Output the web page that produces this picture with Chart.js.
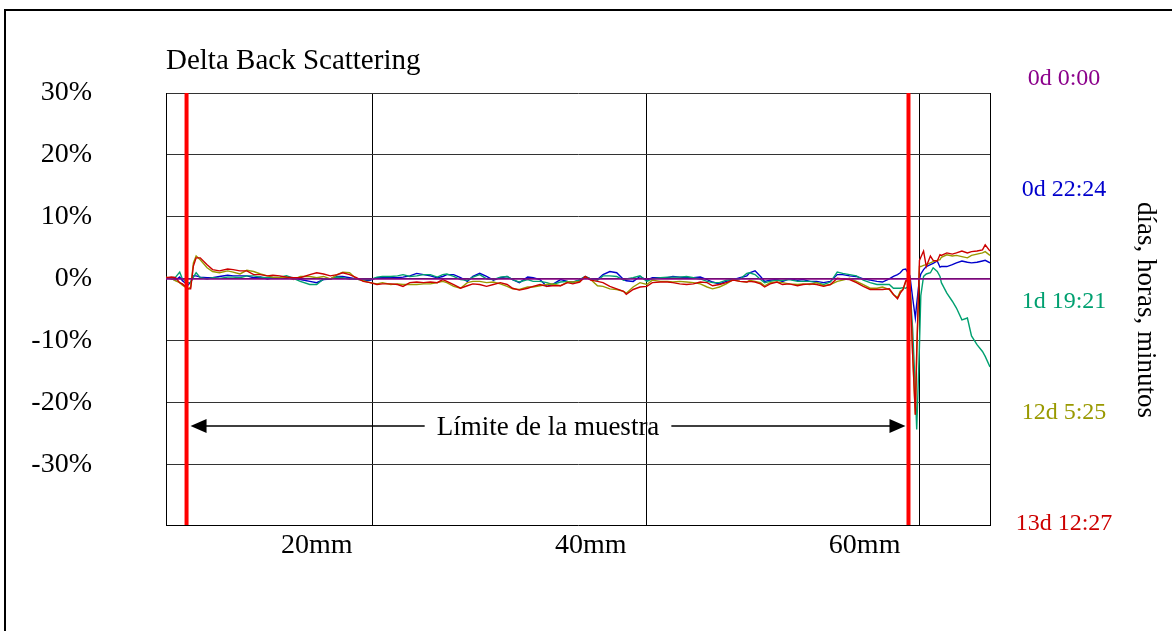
<!DOCTYPE html>
<html>
<head>
<meta charset="utf-8">
<title>Delta Back Scattering</title>
<script src="https://cdn.jsdelivr.net/npm/chart.js@4.4.1/dist/chart.umd.min.js"></script>
<style>
  html, body { margin: 0; padding: 0; background: #fff; }
  #wrap { width: 1172px; height: 631px; }
</style>
</head>
<body>
<div id="wrap"><canvas id="chart"></canvas></div>
<script>
// series names (legend on the right) and colours
const seriesLabels = ['0d 0:00', '0d 22:24', '1d 19:21', '12d 5:25', '13d 12:27'];
const seriesColors = ['#8b008b', '#0000cc', '#00a070', '#999900', '#cc0000'];

// sample position in mm
const xMm = [
  9.0, 9.4, 9.7, 10.0, 10.2, 10.6, 10.8, 11.0, 11.2, 11.5,
  12.0, 12.4, 12.9, 13.5, 13.9, 14.4, 14.9, 15.4, 15.9, 16.4,
  16.8, 17.3, 17.8, 18.3, 18.8, 19.5, 20.0, 20.5, 21.0, 21.5,
  21.9, 22.4, 22.9, 23.4, 23.9, 24.4, 24.8, 25.4, 25.9, 26.3,
  26.8, 27.3, 27.8, 28.3, 28.8, 29.2, 29.5, 30.0, 30.5, 31.0,
  31.4, 31.9, 32.4, 32.9, 33.4, 33.9, 34.3, 34.8, 35.4, 35.8,
  36.3, 36.8, 37.2, 37.8, 38.3, 38.7, 39.2, 39.6, 40.0, 40.5,
  40.9, 41.4, 41.9, 42.4, 42.6, 43.1, 43.6, 44.1, 44.5, 45.1,
  45.6, 46.0, 46.5, 47.0, 47.5, 48.0, 48.5, 48.9, 49.4, 49.9,
  50.4, 50.9, 51.4, 51.6, 52.0, 52.4, 52.7, 53.1, 53.6, 54.0,
  54.5, 55.1, 55.5, 56.0, 56.5, 57.0, 57.5, 58.0, 58.4, 58.9,
  59.4, 59.9, 60.4, 60.9, 61.3, 61.8, 62.1, 62.4, 62.6, 62.8,
  63.0, 63.3, 63.5, 63.7, 63.8, 64.0, 64.1, 64.3, 64.5, 64.8,
  65.0, 65.3, 65.5, 65.6, 66.0, 66.4, 66.7, 67.1, 67.5, 67.8,
  68.2, 68.6, 68.8, 69.15
];

// reference measurement (0d 0:00) is flat at 0
const refMm = [9.0, 69.15];
const refPct = [0, 0];

// 0d 22:24
const pct0d22 = [
  0.2, 0, -0.2, 0.3, -0.3, -1.0, -0.5, 0.5, 0.5, 0.3,
  0.2, 0.2, 0.4, 0.6, 0.5, 0.5, 0.5, 0.2, 0.3, 0,
  0.2, 0.2, 0.3, 0.2, -0.1, -0.4, -0.6, -0.1, 0, 0.4,
  0.4, 0.2, 0, -0.2, -0.2, 0.2, 0.2, 0.3, 0.2, 0.3,
  0.5, 0.9, 0.7, 0.5, 0.2, 0.4, 0.7, 0.7, 0.2, -0.4,
  0.4, 0.9, 0.4, -0.2, 0.2, 0.4, -0.1, -0.6, 0.3, 0.2,
  -0.1, -1.2, -0.9, -0.1, -0.4, -0.5, -0.2, 0.4, 0, -0.1,
  0.7, 1.2, 1.0, -0.1, -0.3, -0.4, 0.4, -0.2, 0.2, 0.2,
  0.2, 0.4, 0.3, 0.2, 0.2, 0.3, -0.1, -0.5, -0.8, -0.4,
  -0.1, 0.2, 0.5, 1.0, 1.3, 0.4, -0.4, -0.2, -0.1, -0.4,
  0, -0.2, -0.1, -0.4, -0.4, -0.6, -0.4, 0.7, 0.7, 0.5,
  0.4, 0, -0.2, -0.4, -0.5, 0, 0.4, 0.7, 1.0, 1.5,
  1.6, 0.5, -3.0, -6.3, -4.0, 0, 0.8, 1.5, 2.0, 2.3,
  2.5, 2.9, 1.9, 2.0, 2.0, 2.3, 2.6, 2.9, 2.7, 2.6,
  2.7, 2.9, 3.0, 2.6
];

// 1d 19:21
const pct1d19 = [
  0.1, 0.2, 0.3, 1.1, 0, -0.6, -0.6, 0.3, 1.0, 0.2,
  0, 0.2, 0.1, 0.3, 0.3, 0.2, 0.5, 0.5, 0.3, 0.2,
  0.2, 0.3, 0.5, 0.1, -0.4, -0.9, -0.9, 0, 0, 0.3,
  0.2, 0, 0, -0.1, -0.1, 0.3, 0.4, 0.4, 0.5, 0.7,
  0.4, 0.5, 0.7, 0.7, 0.3, 0.7, 0.8, 0.4, -0.1, -0.2,
  0.3, 0.7, 0, -0.1, 0.3, 0.4, -0.1, -0.5, -0.1, -0.4,
  -0.4, -0.6, -0.9, -0.5, -0.4, -0.6, -0.1, 0.4, 0, -0.2,
  0.5, 0.5, 0.4, -0.2, 0, 0.2, 0.5, -0.4, 0, 0.2,
  0.3, 0.3, 0.3, 0.4, 0.2, 0, -0.4, -0.6, -0.6, -0.2,
  -0.1, 0, 0.9, 1.0, 0.7, -0.1, -0.6, -0.4, -0.2, -0.2,
  -0.1, -0.4, -0.4, -0.4, -0.6, -0.9, -0.5, 1.1, 0.9, 0.7,
  0.5, -0.2, -0.6, -0.9, -0.9, -0.9, -1.5, -1.5, -1.5, -1.4,
  -1.5, -1.0, -8.0, -18.0, -24.3, -10.8, -2.7, 0.4, 0.8, 1.0,
  1.8, 1.2, 0.4, -0.6, -2.3, -3.6, -4.7, -6.6, -6.3, -9.2,
  -10.6, -11.7, -12.5, -14.2
];

// 12d 5:25
const pct12d5 = [
  0.3, 0.1, -0.3, -0.6, -1.0, -1.6, -1.3, 2.6, 3.7, 3.1,
  1.8, 1.2, 1.0, 1.3, 1.1, 0.8, 1.4, 1.2, 0.8, 0.5,
  0.3, 0.2, 0.3, -0.1, 0.4, 0.4, 0.2, 0.4, 0, 0.7,
  1.1, 1.0, 0, -0.3, -0.6, -0.8, -0.6, -0.9, -0.8, -0.9,
  -0.9, -0.9, -0.8, -0.8, -0.6, -0.4, -0.6, -1.2, -1.5, -0.6,
  -0.4, -0.4, -0.6, -0.5, -0.8, -1.2, -1.6, -1.7, -1.3, -1.3,
  -1.1, -0.9, -0.8, -1.1, -0.5, -0.5, -0.4, 0.3, -0.1, -1.1,
  -1.2, -1.6, -1.7, -2.0, -2.3, -1.3, -0.6, -0.9, -0.2, -0.4,
  -0.4, -0.5, -0.4, -0.5, -0.6, -0.8, -1.3, -1.6, -1.3, -0.8,
  -0.1, -0.4, -0.5, -0.2, -0.4, -0.6, -1.1, -0.6, -0.5, -0.6,
  -0.8, -0.9, -0.8, -0.9, -0.6, -1.1, -0.9, -0.4, -0.2, 0.1,
  -0.4, -0.9, -1.5, -1.5, -1.3, -1.7, -2.5, -3.0, -2.0, -1.7,
  -0.5, 0, -12.0, -21.9, -12.0, 2.0, 2.0, 2.2, 2.3, 2.6,
  2.8, 3.0, 3.1, 3.5, 3.9, 3.7, 3.8, 3.6, 3.4, 3.8,
  4.0, 4.2, 4.4, 3.8
];

// 13d 12:27
const pct13d12 = [
  0.2, 0.3, 0.2, -0.6, -0.8, -1.6, -1.6, 2.1, 3.4, 3.4,
  2.3, 1.5, 1.3, 1.6, 1.5, 1.3, 1.3, 0.7, 0.7, 0.5,
  0.6, 0.5, 0.3, 0.2, 0.2, 0.7, 1.0, 0.8, 0.5, 0.7,
  1.0, 0.7, 0.2, -0.4, -0.6, -0.9, -0.8, -0.8, -0.9, -1.2,
  -0.6, -0.5, -0.6, -0.5, -0.6, -0.1, -0.4, -0.9, -1.5, -1.1,
  -0.8, -0.9, -1.2, -0.9, -0.6, -0.9, -1.5, -1.8, -1.5, -1.2,
  -0.9, -1.2, -1.1, -1.1, -0.6, -0.8, -0.5, 0.4, -0.2, -0.4,
  -0.6, -1.2, -1.6, -2.0, -2.5, -1.7, -1.3, -1.2, -0.6, -0.5,
  -0.5, -0.6, -0.8, -0.9, -0.8, -0.5, -0.6, -1.1, -0.9, -0.6,
  -0.2, -0.4, -0.5, -0.4, -0.5, -0.8, -1.3, -0.8, -0.5, -0.9,
  -0.8, -1.1, -0.9, -0.8, -0.9, -1.2, -0.9, 0.1, 0, -0.1,
  -0.6, -1.2, -1.7, -1.7, -1.7, -1.6, -2.5, -3.2, -2.3, -1.7,
  -0.3, 0, -12.0, -21.9, -12.0, 3.0, 3.5, 4.5, 2.0, 3.7,
  3.0, 2.9, 3.9, 3.8, 4.2, 4.0, 4.2, 4.5, 4.2, 4.4,
  4.5, 4.7, 5.5, 4.5
];

// sample limits (red vertical lines), in mm
const limitsMm = [10.5, 63.2];

// axes
const yTicks = [-30, -20, -10, 0, 10, 20, 30];
const xTicks = [20, 40, 60];
const xGridMm = [24.04, 44.04, 64.04, 69.15];
const xMin = 9.0, xMax = 69.15, yMin = -39.7, yMax = 30;

const serif = "'Liberation Serif', 'Times New Roman', serif";

const seriesData = [
  refMm.map((x, i) => ({ x, y: refPct[i] })),
  xMm.map((x, i) => ({ x, y: pct0d22[i] })),
  xMm.map((x, i) => ({ x, y: pct1d19[i] })),
  xMm.map((x, i) => ({ x, y: pct12d5[i] })),
  xMm.map((x, i) => ({ x, y: pct13d12[i] }))
];

const datasets = seriesData.map((data, i) => ({
  label: seriesLabels[i],
  data: data,
  borderColor: seriesColors[i],
  borderWidth: 1.4,
  pointRadius: 0,
  tension: 0,
  order: i === 0 ? 1 : 6 - i   // later measurements drawn on top
}));

limitsMm.forEach(x => {
  datasets.push({
    label: 'limit',
    data: [{ x, y: yMin }, { x, y: yMax }],
    borderColor: '#ff0000',
    borderWidth: 4,
    pointRadius: 0,
    order: 0
  });
});

// title, right hand labels, arrow and frame
const decor = {
  id: 'decor',
  beforeDraw(chart) {
    const ctx = chart.ctx;
    ctx.save();
    ctx.strokeStyle = '#000';
    ctx.lineWidth = 2;
    ctx.strokeRect(5, 10, 1300, 800);
    ctx.restore();
  },
  afterDraw(chart) {
    const ctx = chart.ctx;
    const area = chart.chartArea;
    const xs = chart.scales.x;
    ctx.save();

    // title
    ctx.fillStyle = '#000';
    ctx.font = '29px ' + serif;
    ctx.textAlign = 'left';
    ctx.textBaseline = 'alphabetic';
    ctx.fillText('Delta Back Scattering', area.left, 69);

    // legend labels on the right
    ctx.font = '24px ' + serif;
    ctx.textAlign = 'center';
    seriesLabels.forEach((lab, i) => {
      ctx.fillStyle = seriesColors[i];
      ctx.fillText(lab, 1064, 85 + i * 111.25);
    });

    // vertical axis caption
    ctx.save();
    ctx.translate(1138, 310);
    ctx.rotate(Math.PI / 2);
    ctx.fillStyle = '#000';
    ctx.font = '27px ' + serif;
    ctx.textAlign = 'center';
    ctx.fillText('días, horas, minutos', 0, 0);
    ctx.restore();

    // double arrow between the sample limits
    const ay = 426;
    const xL = xs.getPixelForValue(limitsMm[0]) + 4;
    const xR = xs.getPixelForValue(limitsMm[1]) - 3;
    const mid = (xL + xR) / 2;
    const label = 'Límite de la muestra';
    ctx.font = '27px ' + serif;
    const tw = ctx.measureText(label).width;
    ctx.fillStyle = '#000';
    ctx.textAlign = 'center';
    ctx.fillText(label, mid, ay + 9);

    ctx.strokeStyle = '#000';
    ctx.lineWidth = 1.5;
    ctx.beginPath();
    ctx.moveTo(xL + 10, ay);
    ctx.lineTo(mid - tw / 2 - 12, ay);
    ctx.moveTo(mid + tw / 2 + 12, ay);
    ctx.lineTo(xR - 10, ay);
    ctx.stroke();

    ctx.beginPath();
    ctx.moveTo(xL, ay);
    ctx.lineTo(xL + 16, ay - 7);
    ctx.lineTo(xL + 16, ay + 7);
    ctx.closePath();
    ctx.moveTo(xR, ay);
    ctx.lineTo(xR - 16, ay - 7);
    ctx.lineTo(xR - 16, ay + 7);
    ctx.closePath();
    ctx.fill();

    ctx.restore();
  }
};

new Chart(document.getElementById('chart'), {
  type: 'line',
  data: { datasets: datasets },
  options: {
    responsive: true,
    maintainAspectRatio: false,
    animation: false,
    devicePixelRatio: 1,
    layout: { padding: { left: 0, right: 182, top: 93, bottom: 66 } },
    plugins: {
      legend: { display: false },
      tooltip: { enabled: false },
      title: { display: false }
    },
    scales: {
      x: {
        type: 'linear',
        position: 'bottom',
        min: xMin,
        max: xMax,
        afterBuildTicks: s => { s.ticks = xTicks.map(v => ({ value: v })); },
        afterFit: s => { s.height = 40; },
        grid: { display: false },
        border: { color: '#000', width: 1 },
        ticks: {
          autoSkip: false,
          maxRotation: 0,
          padding: -4,
          color: '#000',
          font: { family: serif, size: 28 },
          callback: v => v + 'mm'
        }
      },
      xg: {
        type: 'linear',
        position: 'top',
        min: xMin,
        max: xMax,
        afterBuildTicks: s => { s.ticks = xGridMm.map(v => ({ value: v })); },
        afterFit: s => { s.height = 0; },
        grid: { color: '#000', lineWidth: 1, drawTicks: false },
        border: { display: false },
        ticks: { display: false }
      },
      y: {
        min: yMin,
        max: yMax,
        afterBuildTicks: s => { s.ticks = yTicks.map(v => ({ value: v })); },
        afterFit: s => { s.width = 166; },
        grid: { color: '#333', lineWidth: 1, drawTicks: false },
        border: { color: '#000', width: 1 },
        ticks: {
          padding: 74,
          color: '#000',
          font: { family: serif, size: 28 },
          callback: v => v + '%'
        }
      }
    }
  },
  plugins: [decor]
});
</script>
</body>
</html>
